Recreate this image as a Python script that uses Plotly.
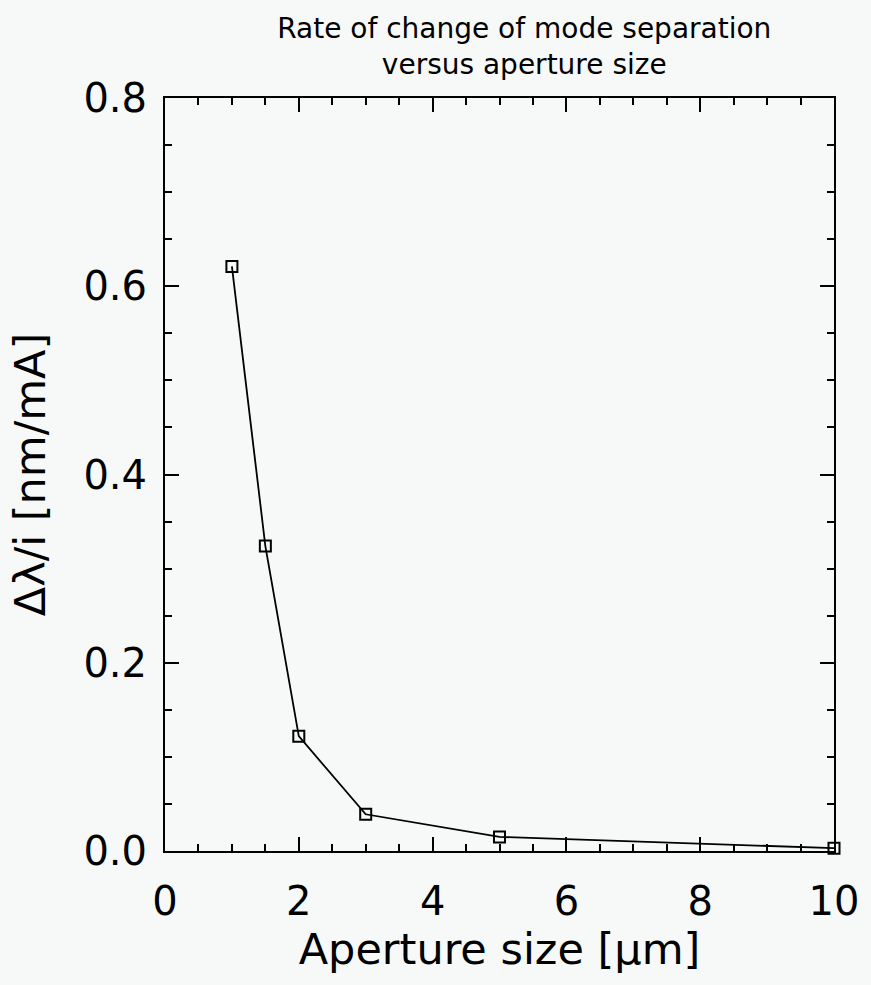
import plotly.graph_objects as go

aperture_um = [1.0, 1.5, 2.0, 3.0, 5.0, 10.0]
rate_nm_per_mA = [0.621, 0.324, 0.122, 0.039, 0.015, 0.003]

x_tickvals = [0, 2, 4, 6, 8, 10]
y_tickvals = [0.0, 0.2, 0.4, 0.6, 0.8]
y_ticktext = ["0.0", "0.2", "0.4", "0.6", "0.8"]

FONT = "DejaVu Sans"
BG = "#f7f9f9"

fig = go.Figure()
fig.add_trace(go.Scatter(
    x=aperture_um, y=rate_nm_per_mA, mode="lines+markers",
    line=dict(color="black", width=1.8),
    marker=dict(symbol="square-open", size=11, color="black", line=dict(width=2, color="black")),
    showlegend=False, cliponaxis=False,
))

axis_common = dict(
    showgrid=False, zeroline=False, showline=True, linecolor="black", linewidth=2,
    mirror="allticks", ticks="inside", tickcolor="black", tickwidth=2, ticklen=14,
    tickfont=dict(family=FONT, size=40, color="black"),
)

fig.update_xaxes(
    range=[0, 10], tickvals=x_tickvals, ticklabelstandoff=14,
    minor=dict(dtick=0.5, ticks="inside", ticklen=7, tickwidth=2, tickcolor="black"),
    title=dict(text="Aperture size [μm]", font=dict(family=FONT, size=43, color="black"), standoff=5),
    **axis_common,
)
fig.update_yaxes(
    range=[0, 0.8], tickvals=y_tickvals, ticktext=y_ticktext, ticklabelstandoff=8,
    minor=dict(dtick=0.05, ticks="inside", ticklen=7, tickwidth=2, tickcolor="black"),
    title=dict(text="Δλ/i [nm/mA]", font=dict(family=FONT, size=43, color="black"), standoff=24),
    **axis_common,
)

fig.update_layout(
    width=871, height=985,
    margin=dict(l=165, r=30, t=98, b=134),
    paper_bgcolor=BG, plot_bgcolor=BG,
    title=dict(
        text="Rate of change of mode separation<br>versus aperture size",
        xref="paper", x=0.537, xanchor="center",
        yref="paper", y=1, yanchor="bottom", pad=dict(b=60),
        font=dict(family=FONT, size=28, color="black"),
    ),
)

fig.write_html("out.html", config={"displayModeBar": False},
               post_script="document.body.style.margin='0';")
